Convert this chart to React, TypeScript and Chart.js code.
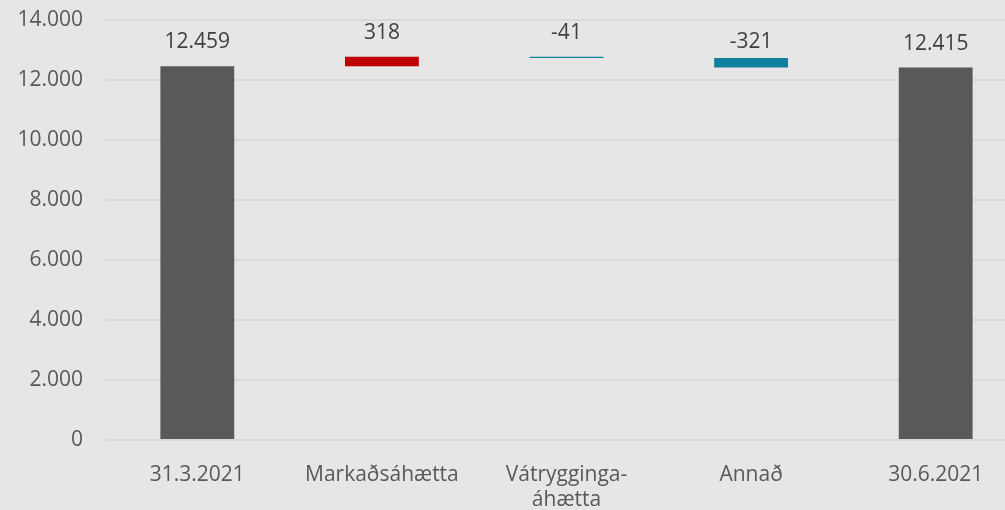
import React, { useEffect, useRef } from "react";
import { Chart, registerables } from "chart.js";

Chart.register(...registerables);

const categories: (string | string[])[] = ["31.3.2021", "Markaðsáhætta", ["Vátrygginga-", "áhætta"], "Annað", "30.6.2021"];
const startValue = 12459;
const deltas = [318, -41, -321];
const endValue = 12415;
const labels = ["12.459", "318", "-41", "-321", "12.415"];
const yTicks = [0, 2000, 4000, 6000, 8000, 10000, 12000, 14000];

const colorTotal = "#595959";
const colorUp = "#c00000";
const colorDown = "#10809f";

function fmt(v: number): string {
  return v.toString().replace(/\B(?=(\d{3})+(?!\d))/g, ".");
}

export default function App() {
  const ref = useRef<HTMLCanvasElement | null>(null);
  useEffect(() => {
    document.body.style.margin = "0";
    document.body.style.overflow = "hidden";
    const ranges: [number, number][] = [[0, startValue]];
    const colors: string[] = [colorTotal];
    let cur = startValue;
    for (const d of deltas) {
      const next = cur + d;
      ranges.push([Math.min(cur, next), Math.max(cur, next)]);
      colors.push(d >= 0 ? colorUp : colorDown);
      cur = next;
    }
    ranges.push([0, endValue]);
    colors.push(colorTotal);

    const font = "'Open Sans', 'Noto Sans', sans-serif";
    const labelPlugin = {
      id: "dlabels",
      afterDatasetsDraw(chart: any) {
        const ctx = chart.ctx;
        const meta = chart.getDatasetMeta(0);
        ctx.save();
        ctx.font = `21px ${font}`;
        ctx.fillStyle = "#404040";
        ctx.textAlign = "center";
        ctx.textBaseline = "middle";
        meta.data.forEach((el: any, i: number) => {
          const top = Math.min(el.y, el.base);
          const off = i === 3 ? 16 : 24;
          ctx.fillText(labels[i], el.x, top - off);
        });
        ctx.restore();
      },
    };

    const chart = new Chart(ref.current!, {
      type: "bar",
      data: {
        labels: categories,
        datasets: [
          {
            data: ranges as any,
            backgroundColor: colors,
            barPercentage: 0.4,
            categoryPercentage: 1,
            borderSkipped: false,
          },
        ],
      },
      options: {
        animation: false,
        responsive: false,
        layout: { padding: { top: 20, left: 0, right: 0, bottom: 0 } },
        plugins: { legend: { display: false }, tooltip: { enabled: false } },
        scales: {
          x: {
            grid: { display: false },
            border: { display: false },
            ticks: {
              color: "#595959",
              font: { size: 21, family: font },
              padding: 14,
              maxRotation: 0,
            },
            afterFit(scale: any) {
              scale.height = 70;
              scale.paddingLeft = 0;
              scale.paddingRight = 0;
            },
          },
          y: {
            min: 0,
            max: 14000,
            afterBuildTicks(scale: any) {
              scale.ticks = yTicks.map((v) => ({ value: v }));
            },
            grid: { color: "#d9d9d9", lineWidth: 2, drawTicks: false },
            border: { display: false },
            ticks: {
              color: "#595959",
              font: { size: 21, family: font },
              padding: 22,
              callback: (v: any) => fmt(Number(v)),
            },
            afterFit(scale: any) {
              scale.width = 105;
              scale.paddingTop = 0;
              scale.paddingBottom = 0;
            },
          },
        },
      },
      plugins: [labelPlugin],
    });
    return () => chart.destroy();
  }, []);
  return (
    <div style={{ position: "fixed", left: 0, top: 0, width: 1028, height: 510, background: "#e6e6e6" }}>
      <canvas ref={ref} width={1028} height={510} style={{ display: "block" }} />
    </div>
  );
}
